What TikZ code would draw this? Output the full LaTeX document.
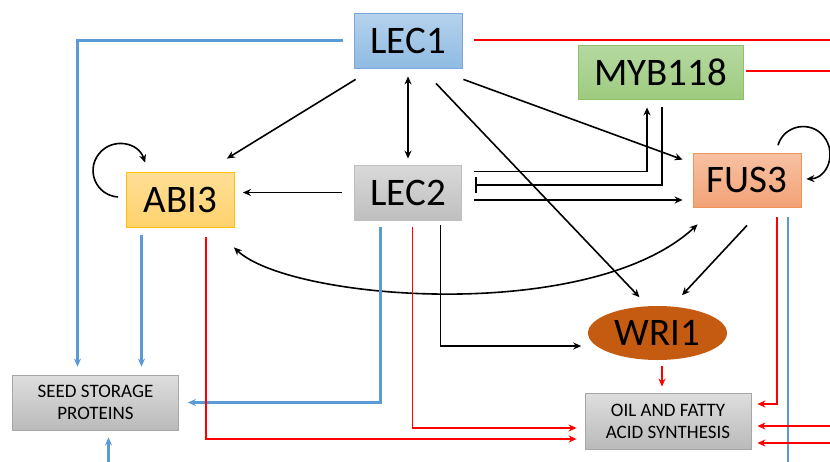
\documentclass[tikz,border=0pt]{standalone}
\usepackage{fontspec}
\setmainfont{Carlito}
\usetikzlibrary{arrows.meta,positioning,shapes.geometric}
\definecolor{lineblue}{HTML}{5B9BD5}
\definecolor{linered}{HTML}{FF0000}
\definecolor{wricol}{HTML}{C55A11}
\definecolor{lecblue}{HTML}{7AA7DC}
\definecolor{abitop}{HTML}{FFDE96}
\definecolor{abibot}{HTML}{FFD26C}
\definecolor{abiline}{HTML}{FFC000}
\definecolor{mybtop}{HTML}{B5D9A1}
\definecolor{mybbot}{HTML}{9ECB7F}
\definecolor{mybline}{HTML}{8CC06B}
\definecolor{fustop}{HTML}{F7C1A2}
\definecolor{fusbot}{HTML}{F3A277}
\definecolor{fusline}{HTML}{F0935A}

\begin{document}
\begin{tikzpicture}[x=1pt,y=-1pt,on grid,line width=1.6pt,
		>={Stealth[length=8pt,width=7pt]},
		gene/.style={rectangle,minimum width=108pt,minimum height=55pt,inner sep=0pt,line width=0.8pt,font={\fontsize{39}{44}\selectfont}},
		product/.style={rectangle,draw=black!35,top color=black!13,bottom color=black!27,minimum width=166pt,minimum height=55pt,inner sep=0pt,line width=0.8pt,align=center,font={\fontsize{19}{22}\selectfont}},
		act/.style={->,black},
		blueline/.style={->,draw=lineblue,line width=2.2pt},
		redline/.style={->,draw=linered,line width=1.8pt}]
		\useasboundingbox (0,0) rectangle (830,461);
		\node[gene, draw=lecblue, top color=lineblue!45, bottom color=lineblue!68] (lec1) at (408,40.5) {LEC1};
		\node[gene, draw=black!25, top color=black!15, bottom color=black!25, minimum width=107pt] (lec2) [below=152pt of lec1] {LEC2};
		\node[gene, draw=mybline, top color=mybtop, bottom color=mybbot, minimum width=165pt, minimum height=54pt] (myb) [below right=31.5pt and 252.5pt of lec1] {MYB118};
		\node[gene, draw=abiline, top color=abitop, bottom color=abibot] (abi3) [below left=7pt and 227.5pt of lec2] {ABI3};
		\node[gene, draw=fusline, top color=fustop, bottom color=fusbot, minimum height=54pt] (fus3) [below right=108pt and 86.5pt of myb] {FUS3};
		\node[ellipse, fill=wricol, inner sep=0pt, minimum width=139pt, minimum height=54pt, font={\fontsize{39}{44}\selectfont}] (wri1) [below left=153pt and 89.5pt of fus3] {WRI1};
		\node[product, minimum height=56pt] (oil) [below right=88pt and 10.5pt of wri1] {OIL AND FATTY\\ACID SYNTHESIS};
		\node[product] (ssp) [below left=203pt and 85pt of abi3] {SEED STORAGE\\PROTEINS};
		\coordinate (offb) at (400,472);
		\coordinate (offr1) at (850,443);
		\coordinate (offr2) at (840,426);
		\path[act]
		([shift={(2,11)}]lec1.south west) edge ([shift={(-8,-13)}]abi3.north east)
		(lec1) edge [<->, shorten <=8pt, shorten >=6pt] (lec2)
		([shift={(1,11)}]lec1.south east) edge ([shift={(-10,7)}]fus3.north west)
		([shift={(28,15)}]lec1.south) edge ([shift={(-18,-8)}]wri1.north)
		([shift={(-12,0)}]lec2.west) edge ([shift={(8,-7)}]abi3.east)
		([shift={(12,7.5)}]lec2.east) edge ([shift={(-10,20)}]fus3.west)
		([shift={(0,18)}]fus3.south) edge ([shift={(24.5,-10)}]wri1.north);
		\draw[act] ([shift={(12,7)}]lec2.north east) -| ([shift={(-13.5,8)}]myb.south);
		\draw[-{Bar[width=16pt]},black] ([shift={(1.5,8)}]myb.south) |- ([shift={(13,-7.5)}]lec2.east);
		\draw[act] ([shift={(32.5,5)}]lec2.south) |- ([shift={(-6,13)}]wri1.west);
		\draw[<->] ([shift={(-1,20)}]abi3.south east) .. controls +(56,53) and +(-108,100) .. ([shift={(5,17)}]fus3.south west);
		\draw[act] ([shift={(-8,-2.5)}]abi3.west) .. controls +(-21.6,-1.5) and +(-13.3,17) .. ([shift={(-27.3,-17.6)}]abi3.north west)
		.. controls +(13.3,-17) and +(-6.7,-20.5) .. ([shift={(19,-9)}]abi3.north west);
		\draw[act] ([shift={(31,-7.4)}]fus3.north) .. controls +(6,-20.3) and +(-13.1,-16.7) .. ([shift={(22.5,-16)}]fus3.north east)
		.. controls +(13.1,16.7) and +(21,-1) .. ([shift={(5,-1)}]fus3.east);
		\draw[blueline] ([shift={(-11,0)}]lec1.west) -| ([shift={(-18,-8)}]ssp.north);
		\draw[blueline] ([shift={(-39,8)}]abi3.south) -- ([shift={(46,-8)}]ssp.north);
		\draw[blueline] ([shift={(-27.5,7)}]lec2.south) |- ([shift={(9,0)}]ssp.east);
		\draw[blueline] ([shift={(41,10)}]fus3.south) |- (offb) -| ([shift={(13,7)}]ssp.south);
		\draw[redline] ([shift={(25.5,10)}]abi3.south) |- ([shift={(-8,18)}]oil.west);
		\draw[redline] ([shift={(4.5,7)}]lec2.south) |- ([shift={(-8,7)}]oil.west);
		\draw[redline] ([shift={(30,10)}]fus3.south) |- ([shift={(6,-17)}]oil.east);
		\draw[redline] ([shift={(12,-0.5)}]lec1.east) -| (offr1) -- ([shift={(6,22)}]oil.east);
		\draw[redline] ([shift={(3,-1)}]myb.east) -| (offr2) -- ([shift={(6,5)}]oil.east);
		\draw[redline] ([shift={(4.5,5)}]wri1.south) -- ([shift={(-6,-6)}]oil.north);
	\end{tikzpicture}
\end{document}
